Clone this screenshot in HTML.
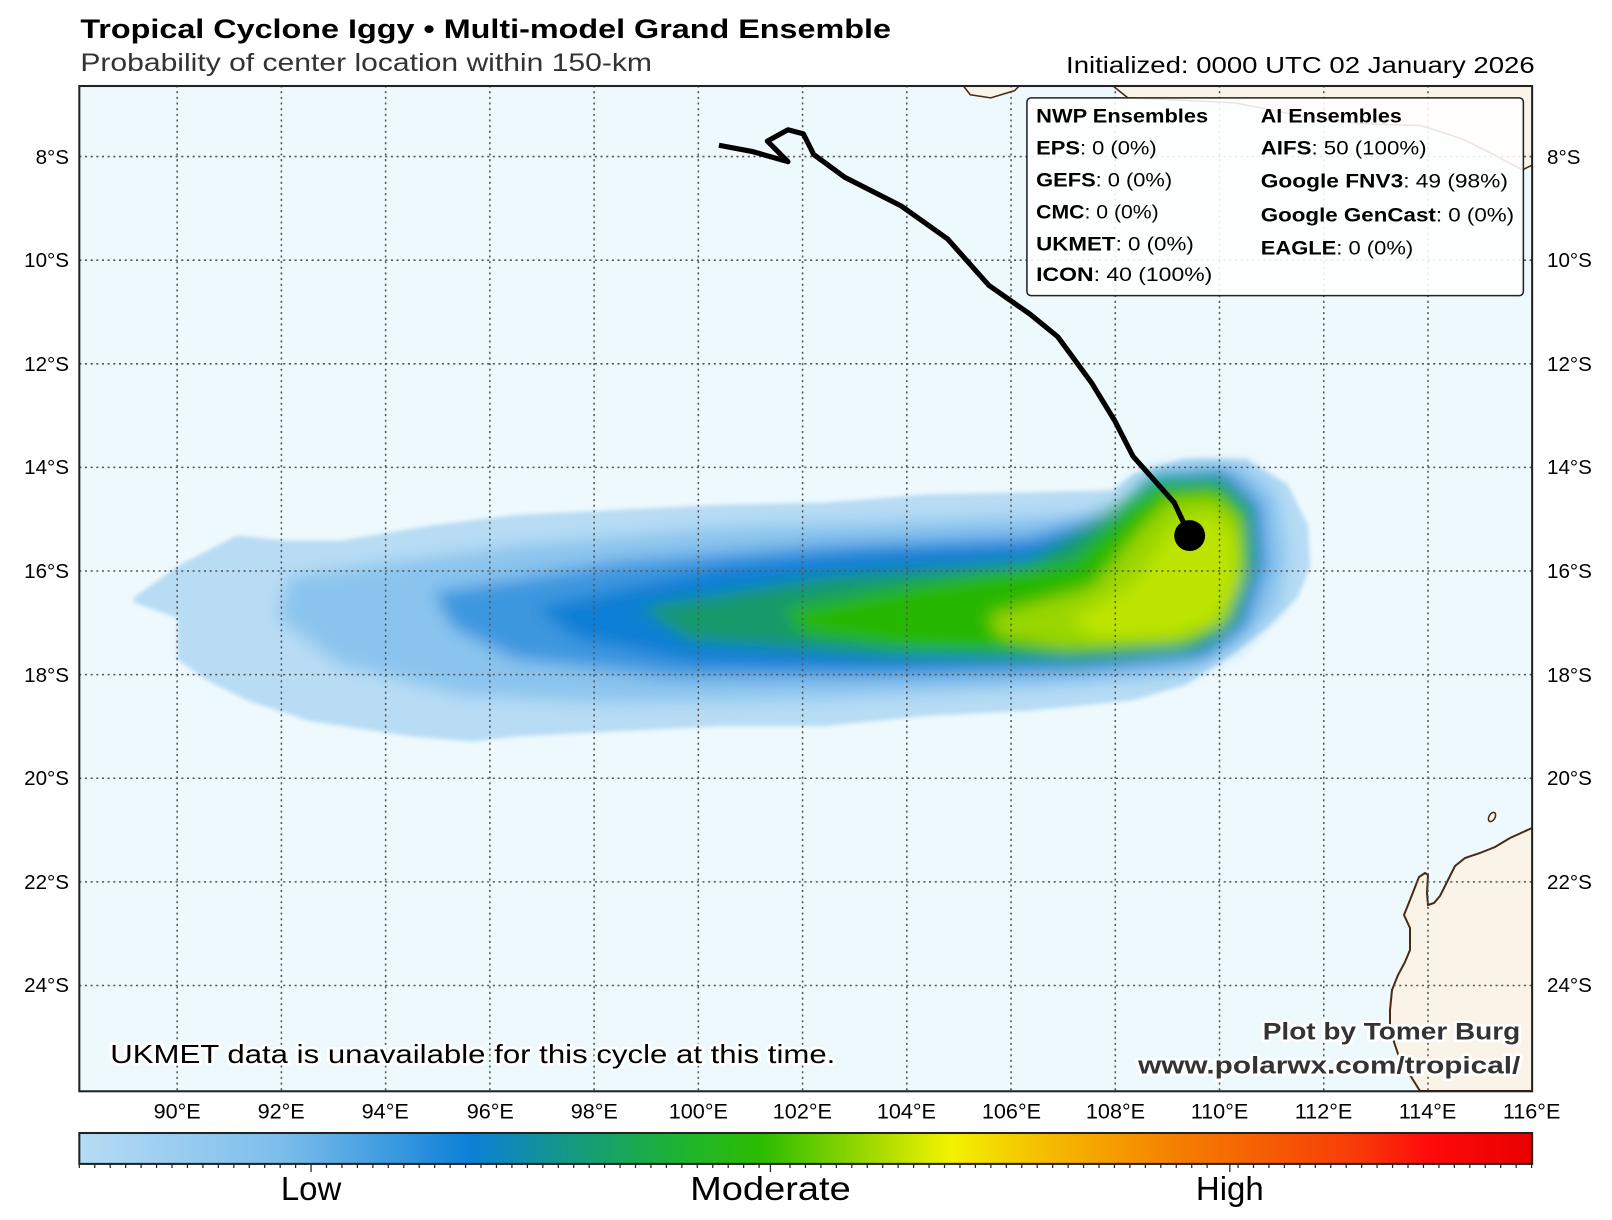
<!DOCTYPE html>
<html><head><meta charset="utf-8"><style>
html,body{margin:0;padding:0;background:#fff;}
svg{display:block;}
text{font-family:"Liberation Sans","DejaVu Sans",sans-serif;}
</style></head><body>
<svg width="1612" height="1220" viewBox="0 0 1612 1220" xmlns="http://www.w3.org/2000/svg">
<defs>
<filter id="b1" x="-20%" y="-50%" width="140%" height="200%"><feGaussianBlur stdDeviation="2"/></filter>
<filter id="b2" x="-20%" y="-50%" width="140%" height="200%"><feGaussianBlur stdDeviation="8"/></filter>
<clipPath id="mc"><rect x="77" y="83.5" width="1410.5" height="976"/></clipPath>
<linearGradient id="cb" x1="0" x2="1" y1="0" y2="0">
<stop offset="0" stop-color="#b6dcf5"/>
<stop offset="0.14" stop-color="#7cbdeb"/>
<stop offset="0.27" stop-color="#0b80d8"/>
<stop offset="0.34" stop-color="#159a80"/>
<stop offset="0.42" stop-color="#1fb62a"/>
<stop offset="0.47" stop-color="#2cbc00"/>
<stop offset="0.56" stop-color="#b8e000"/>
<stop offset="0.60" stop-color="#f2f200"/>
<stop offset="0.66" stop-color="#f5c000"/>
<stop offset="0.76" stop-color="#f57c00"/>
<stop offset="0.88" stop-color="#f83a08"/>
<stop offset="0.93" stop-color="#ff0a0a"/>
<stop offset="1" stop-color="#e80000"/>
</linearGradient>
</defs>
<g transform="scale(1.03)">
<text x="78" y="37" font-size="26" font-weight="bold" fill="#000" textLength="787" lengthAdjust="spacingAndGlyphs">Tropical Cyclone Iggy • Multi-model Grand Ensemble</text>
<text x="78" y="69" font-size="24" fill="#333" textLength="555" lengthAdjust="spacingAndGlyphs">Probability of center location within 150-km</text>
<text x="1035" y="71" font-size="22" fill="#000" textLength="455" lengthAdjust="spacingAndGlyphs">Initialized: 0000 UTC 02 January 2026</text>

<rect x="77" y="83.5" width="1410.5" height="976" fill="#eef9fd"/>
<g clip-path="url(#mc)">
<path d="M935,83 L942,92 L962,95 L985,88 L990,83 Z" fill="#faf3e8" stroke="#4a2a10" stroke-width="1.5"/>
<path d="M1080,83 L1095,95 L1140,97 L1200,100 L1260,112 L1320,120 L1380,122 L1420,135 L1450,150 L1478,165 L1488,160 L1488,83 Z" fill="#faf3e8" stroke="#4a2a10" stroke-width="1.5"/>
<g transform="scale(0.97087)">
<path d="M1532,828 L1510,838 L1495,847 L1480,853 L1465,858 L1455,866 L1448,880 L1440,896 L1434,903 L1428,905 L1427,893 L1428,875 L1425,873 L1419,877 L1410,900 L1404,915 L1410,928 L1410,950 L1405,962 L1398,975 L1392,990 L1390,1010 L1390,1030 L1395,1045 L1400,1060 L1410,1075 L1420,1091 L1540,1091 L1540,828 Z" fill="#faf3e8" stroke="#4a2a10" stroke-width="2"/>
<ellipse cx="1492" cy="817" rx="3" ry="5" transform="rotate(30 1492 817)" fill="#faf3e8" stroke="#4a2a10" stroke-width="1.5"/>
</g>
<g filter="url(#b1)">
<polygon fill="#b8dcf4" points="130,580 175,548 230,520 280,525 330,525 420,510 500,500 600,495 700,490 800,488 900,480 1000,478 1080,476 1100,460 1150,445 1210,446 1250,470 1270,510 1272,550 1260,580 1230,610 1190,640 1150,665 1100,680 1000,690 900,695 800,705 700,705 600,710 500,715 460,720 400,715 300,700 240,680 200,660 172,640 172,600 130,585"/>
</g>
<g filter="url(#b2)">
<polygon fill="#8ac4ee" points="280,560 500,530 700,512 900,505 1050,500 1100,485 1150,455 1210,452 1240,480 1250,540 1240,590 1200,630 1150,655 1000,668 800,678 600,682 450,675 330,645 270,600"/>
<polygon fill="#3d97df" points="420,575 600,545 800,528 1000,520 1080,498 1120,460 1190,455 1225,490 1230,550 1210,610 1170,640 1050,652 850,658 650,658 500,640 440,610"/>
<polygon fill="#0f7fd6" points="520,590 700,550 850,535 1000,528 1080,500 1120,462 1190,458 1222,490 1226,550 1206,608 1168,636 1050,648 850,650 680,645 560,620"/>
<polygon fill="#169a6a" points="620,590 800,560 1000,545 1085,492 1120,466 1185,464 1215,492 1218,550 1198,608 1160,632 1050,642 850,636 670,622"/>
<polygon fill="#27b800" points="760,592 900,565 1040,545 1095,492 1125,470 1183,468 1210,495 1213,550 1195,605 1155,628 1050,636 880,630 780,615"/>
<polygon fill="#9ad600" points="960,598 1060,570 1110,510 1135,485 1180,482 1205,505 1208,560 1190,605 1145,625 1030,630 970,618"/>
<polygon fill="#bce400" points="1040,600 1100,568 1140,510 1178,500 1200,525 1200,570 1180,605 1140,618 1060,620"/>
</g>
<g stroke="#555" stroke-width="1.5" stroke-dasharray="2,3.5" fill="none">
<path d="M172,83V1060M273.2,83V1060M374.4,83V1060M475.6,83V1060M576.8,83V1060M678,83V1060M779.2,83V1060M880.4,83V1060M981.6,83V1060M1082.8,83V1060M1184,83V1060M1285.2,83V1060M1386.4,83V1060"/>
<path d="M77,152H1488M77,252.6H1488M77,353.2H1488M77,453.8H1488M77,554.4H1488M77,655H1488M77,755.6H1488M77,856.2H1488M77,956.8H1488"/>
</g>
<polyline fill="none" stroke="#000" stroke-width="5" stroke-linejoin="round" points="698,141 730,147 765,157 745,137 765,126 780,130 790,150 820,172 875,200 920,232 960,277 1000,305 1027,327 1060,372 1082,408 1100,443 1140,488 1155,520"/>
<circle cx="1155" cy="520" r="15" fill="#000"/>
</g>
<rect x="77" y="83.5" width="1410.5" height="976" fill="none" stroke="#222" stroke-width="2"/>
<rect x="997" y="95" width="482" height="192" rx="4" fill="#fff" fill-opacity="0.88" stroke="#222" stroke-width="1.5"/>
<g font-size="19" fill="#000" lengthAdjust="spacingAndGlyphs">
<text x="1006" y="119" font-weight="bold" textLength="167" lengthAdjust="spacingAndGlyphs">NWP Ensembles</text>
<text x="1006" y="150" textLength="117" lengthAdjust="spacingAndGlyphs"><tspan font-weight="bold">EPS</tspan>: 0 (0%)</text>
<text x="1006" y="181" textLength="132" lengthAdjust="spacingAndGlyphs"><tspan font-weight="bold">GEFS</tspan>: 0 (0%)</text>
<text x="1006" y="212" textLength="119" lengthAdjust="spacingAndGlyphs"><tspan font-weight="bold">CMC</tspan>: 0 (0%)</text>
<text x="1006" y="243" textLength="153" lengthAdjust="spacingAndGlyphs"><tspan font-weight="bold">UKMET</tspan>: 0 (0%)</text>
<text x="1006" y="273" textLength="171" lengthAdjust="spacingAndGlyphs"><tspan font-weight="bold">ICON</tspan>: 40 (100%)</text>
<text x="1224" y="119" font-weight="bold" textLength="137" lengthAdjust="spacingAndGlyphs">AI Ensembles</text>
<text x="1224" y="150" textLength="161" lengthAdjust="spacingAndGlyphs"><tspan font-weight="bold">AIFS</tspan>: 50 (100%)</text>
<text x="1224" y="182" textLength="240" lengthAdjust="spacingAndGlyphs"><tspan font-weight="bold">Google FNV3</tspan>: 49 (98%)</text>
<text x="1224" y="215" textLength="246" lengthAdjust="spacingAndGlyphs"><tspan font-weight="bold">Google GenCast</tspan>: 0 (0%)</text>
<text x="1224" y="247" textLength="148" lengthAdjust="spacingAndGlyphs"><tspan font-weight="bold">EAGLE</tspan>: 0 (0%)</text>
</g>
<text x="107" y="1032" font-size="25" fill="#000" stroke="#fff" stroke-width="5" paint-order="stroke" stroke-linejoin="round" textLength="704" lengthAdjust="spacingAndGlyphs">UKMET data is unavailable for this cycle at this time.</text>
<g font-size="23" font-weight="bold" fill="#333" stroke="#fff" stroke-width="5" paint-order="stroke" stroke-linejoin="round">
<text x="1226" y="1009" textLength="250" lengthAdjust="spacingAndGlyphs">Plot by Tomer Burg</text>
<text x="1105" y="1042" textLength="371" lengthAdjust="spacingAndGlyphs">www.polarwx.com/tropical/</text>
</g>
<g font-size="20" fill="#000">
<g text-anchor="end">
<text x="67" y="159">8°S</text><text x="67" y="259">10°S</text><text x="67" y="360">12°S</text><text x="67" y="460">14°S</text><text x="67" y="561">16°S</text><text x="67" y="662">18°S</text><text x="67" y="762">20°S</text><text x="67" y="863">22°S</text><text x="67" y="963">24°S</text>
</g>
<g>
<text x="1502" y="159">8°S</text><text x="1502" y="259">10°S</text><text x="1502" y="360">12°S</text><text x="1502" y="460">14°S</text><text x="1502" y="561">16°S</text><text x="1502" y="662">18°S</text><text x="1502" y="762">20°S</text><text x="1502" y="863">22°S</text><text x="1502" y="963">24°S</text>
</g>
<g text-anchor="middle" font-size="21">
<text x="172" y="1086">90°E</text><text x="273" y="1086">92°E</text><text x="374" y="1086">94°E</text><text x="476" y="1086">96°E</text><text x="577" y="1086">98°E</text><text x="678" y="1086">100°E</text><text x="779" y="1086">102°E</text><text x="880" y="1086">104°E</text><text x="982" y="1086">106°E</text><text x="1083" y="1086">108°E</text><text x="1184" y="1086">110°E</text><text x="1285" y="1086">112°E</text><text x="1386" y="1086">114°E</text><text x="1487" y="1086">116°E</text>
</g>
</g>
<rect x="77" y="1100" width="1410.5" height="30" fill="url(#cb)" stroke="#222" stroke-width="2"/>
<path stroke="#222" stroke-width="1.2" d="M77,1130v4M92,1130v4M107,1130v4M122,1130v4M137,1130v4M152,1130v4M167,1130v4M182,1130v4M197,1130v4M212,1130v4M227,1130v4M242,1130v4M257,1130v4M272,1130v4M287,1130v4M302,1130v8M317,1130v4M332,1130v4M347,1130v4M362,1130v4M377,1130v4M392,1130v4M407,1130v4M422,1130v4M437,1130v4M452,1130v4M467,1130v4M482,1130v4M497,1130v4M512,1130v4M527,1130v4M542,1130v4M557,1130v4M572,1130v4M587,1130v4M602,1130v4M617,1130v4M632,1130v4M647,1130v4M662,1130v4M677,1130v4M692,1130v4M707,1130v4M722,1130v4M737,1130v4M748,1130v8M767,1130v4M782,1130v4M797,1130v4M812,1130v4M827,1130v4M842,1130v4M857,1130v4M872,1130v4M887,1130v4M902,1130v4M917,1130v4M932,1130v4M947,1130v4M962,1130v4M977,1130v4M992,1130v4M1007,1130v4M1022,1130v4M1037,1130v4M1052,1130v4M1067,1130v4M1082,1130v4M1097,1130v4M1112,1130v4M1127,1130v4M1142,1130v4M1157,1130v4M1172,1130v4M1194,1130v8M1202,1130v4M1217,1130v4M1232,1130v4M1247,1130v4M1262,1130v4M1277,1130v4M1292,1130v4M1307,1130v4M1322,1130v4M1337,1130v4M1352,1130v4M1367,1130v4M1382,1130v4M1397,1130v4M1412,1130v4M1427,1130v4M1442,1130v4M1457,1130v4M1472,1130v4M1487,1130v4"/>
<g font-size="32" fill="#000" text-anchor="middle">
<text x="302" y="1165">Low</text><text x="748" y="1165" textLength="156" lengthAdjust="spacingAndGlyphs">Moderate</text><text x="1194" y="1165">High</text>
</g>
</g>
</svg>
</body></html>
